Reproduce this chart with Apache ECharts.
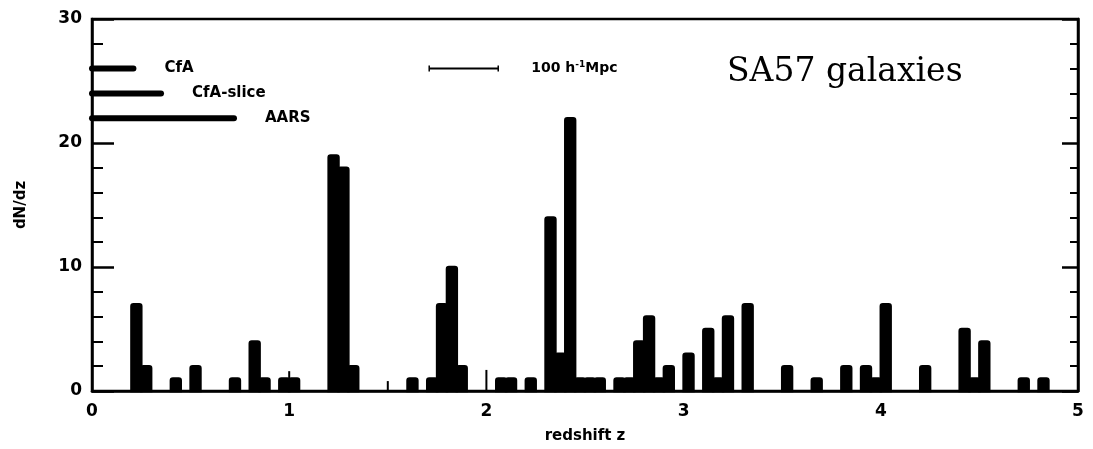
<!DOCTYPE html>
<html>
<head>
<meta charset="utf-8">
<script src="https://cdn.jsdelivr.net/npm/echarts@6.0.0/dist/echarts.min.js"></script>
<style>
  html, body { margin: 0; padding: 0; background: #fff; }
  #chart { width: 1093px; height: 449px; }
</style>
</head>
<body>
<div id="chart"></div>
<script>
// histogram bins (start z, width 0.05) and counts
var binWidth = 0.05;
var binStart = [0.20, 0.25, 0.40, 0.50, 0.70, 0.80, 0.85, 0.95, 1.00, 1.20, 1.25, 1.30,
  1.60, 1.70, 1.75, 1.80, 1.85, 2.05, 2.10, 2.20, 2.30, 2.35, 2.40, 2.45, 2.50, 2.55,
  2.65, 2.70, 2.75, 2.80, 2.85, 2.90, 3.00, 3.10, 3.15, 3.20, 3.30, 3.50, 3.65, 3.80,
  3.90, 3.95, 4.00, 4.20, 4.40, 4.45, 4.50, 4.70, 4.80];
var binCount = [7, 2, 1, 2, 1, 4, 1, 1, 1, 19, 18, 2,
  1, 1, 7, 10, 2, 1, 1, 1, 14, 3, 22, 1, 1, 1,
  1, 1, 4, 6, 1, 2, 3, 5, 1, 6, 7, 2, 1, 2,
  2, 1, 7, 2, 5, 1, 4, 1, 1];

// thin stray marks on the plot
var spikeZ = [1.0, 1.5, 2.0];
var spikeH = [1.6, 0.8, 1.7];

// survey depth bars (top left)
var surveyNames = ['CfA', 'CfA-slice', 'AARS'];
var surveyDepth = [0.21, 0.35, 0.72];
var surveyLevel = [26, 24, 22];

// scale bar
var scaleFrom = 1.71, scaleTo = 2.06, scaleLevel = 26;

var xTicks = [0, 1, 2, 3, 4, 5];
var yTicks = [0, 10, 20, 30];

var font = 'DejaVu Sans';
var chart = echarts.init(document.getElementById('chart'));

var bars = binStart.map(function (z, i) { return [z, binCount[i]]; });
var spikes = spikeZ.map(function (z, i) { return [z, spikeH[i]]; });
var surveys = surveyNames.map(function (n, i) { return [surveyDepth[i], surveyLevel[i], n]; });

var option = {
  animation: false,
  backgroundColor: '#fff',
  grid: { left: 92, right: 15, top: 19, bottom: 52, show: true, borderColor: '#000', borderWidth: 2.5 },
  xAxis: {
    type: 'value', min: 0, max: 5, interval: 1,
    name: 'redshift z', nameLocation: 'middle', nameGap: 38,
    nameTextStyle: { fontFamily: font, fontWeight: 'bold', fontSize: 15, color: '#000' },
    axisLine: { show: true, lineStyle: { color: '#000', width: 2.5 } },
    axisTick: { show: false },
    splitLine: { show: false },
    axisLabel: { color: '#000', fontFamily: font, fontWeight: 'bold', fontSize: 17, margin: 12,
      formatter: function (v) { return xTicks.indexOf(v) >= 0 ? String(v) : ''; } }
  },
  yAxis: [{
    type: 'value', min: 0, max: 30, interval: 10,
    name: 'dN/dz', nameLocation: 'middle', nameGap: 63, nameRotate: 90,
    nameTextStyle: { fontFamily: font, fontWeight: 'bold', fontSize: 15, color: '#000' },
    axisLine: { show: true, lineStyle: { color: '#000', width: 2.5 } },
    axisTick: { show: true, inside: true, length: 22, lineStyle: { color: '#000', width: 2.5 } },
    minorTick: { show: true, splitNumber: 5, length: 11, lineStyle: { color: '#000', width: 2 } },
    splitLine: { show: false },
    axisLabel: { color: '#000', fontFamily: font, fontWeight: 'bold', fontSize: 17, margin: 10,
      formatter: function (v) { return yTicks.indexOf(v) >= 0 ? String(v) : ''; } }
  }, {
    type: 'value', min: 0, max: 30, interval: 10, position: 'right',
    axisLine: { show: true, lineStyle: { color: '#000', width: 2.5 } },
    axisTick: { show: true, inside: true, length: 16, lineStyle: { color: '#000', width: 2.5 } },
    minorTick: { show: true, splitNumber: 5, length: 8, lineStyle: { color: '#000', width: 2 } },
    splitLine: { show: false },
    axisLabel: { show: false }
  }],
  series: [{
    type: 'custom',
    data: bars,
    renderItem: function (params, api) {
      var z = api.value(0), n = api.value(1);
      var p0 = api.coord([z, n]);
      var p1 = api.coord([z + binWidth, 0]);
      return {
        type: 'rect',
        shape: { x: p0[0], y: p0[1], width: p1[0] - p0[0], height: p1[1] - p0[1], r: [2, 2, 0, 0] },
        style: { fill: '#000', stroke: '#000', lineWidth: 2.5 }
      };
    }
  }, {
    type: 'custom',
    data: spikes,
    renderItem: function (params, api) {
      var a = api.coord([api.value(0), 0]);
      var b = api.coord([api.value(0), api.value(1)]);
      return { type: 'line', shape: { x1: a[0], y1: a[1], x2: b[0], y2: b[1] },
        style: { stroke: '#000', lineWidth: 2 } };
    }
  }, {
    type: 'custom',
    data: surveys,
    renderItem: function (params, api) {
      var a = api.coord([0, api.value(1)]);
      var b = api.coord([api.value(0), api.value(1)]);
      return {
        type: 'group',
        children: [{
          type: 'line', shape: { x1: a[0], y1: a[1], x2: b[0], y2: b[1] },
          style: { stroke: '#000', lineWidth: 6, lineCap: 'round' }
        }, {
          type: 'text',
          style: { x: b[0] + 31, y: b[1], text: surveyNames[params.dataIndex], fill: '#000',
            font: 'bold 15px "DejaVu Sans"', textVerticalAlign: 'middle' }
        }]
      };
    }
  }, {
    type: 'custom',
    data: [[scaleFrom, scaleTo, scaleLevel]],
    renderItem: function (params, api) {
      var a = api.coord([api.value(0), api.value(2)]);
      var b = api.coord([api.value(1), api.value(2)]);
      return {
        type: 'group',
        children: [{
          type: 'line', shape: { x1: a[0], y1: a[1], x2: b[0], y2: b[1] },
          style: { stroke: '#000', lineWidth: 2 }
        }, {
          type: 'line', shape: { x1: a[0], y1: a[1] - 3, x2: a[0], y2: a[1] + 3 },
          style: { stroke: '#000', lineWidth: 1.5 }
        }, {
          type: 'line', shape: { x1: b[0], y1: b[1] - 3, x2: b[0], y2: b[1] + 3 },
          style: { stroke: '#000', lineWidth: 1.5 }
        }, {
          type: 'text',
          style: { x: b[0] + 33, y: b[1], text: '{n|100 h}{s|-1}{n|Mpc}', textVerticalAlign: 'middle',
            rich: {
              n: { font: 'bold 14px "DejaVu Sans"', fill: '#000' },
              s: { font: 'bold 9px "DejaVu Sans"', fill: '#000', verticalAlign: 'top', padding: [0, 0, 8, 0] }
            } }
        }]
      };
    }
  }],
  graphic: [{
    type: 'text', left: 727, top: 56,
    style: { text: 'SA57 galaxies', font: '33px "DejaVu Serif"', fill: '#000' }
  }]
};
chart.setOption(option);
</script>
</body>
</html>
